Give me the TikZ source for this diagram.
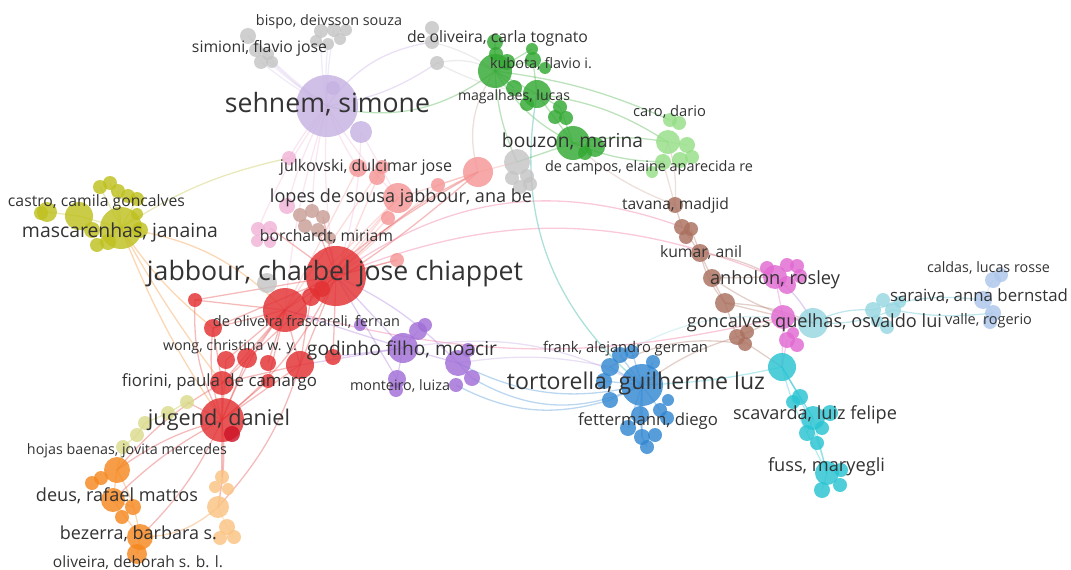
\documentclass[tikz,border=0pt]{standalone}
\usepackage{fontspec}
\setmainfont{Open Sans}
\usepackage{graphicx}
\pgfdeclarelayer{bg}
\pgfsetlayers{bg,main}
\definecolor{cred}{RGB}{226,48,50}
\definecolor{cdred}{RGB}{205,20,40}
\definecolor{cgreen}{RGB}{50,168,50}
\definecolor{cblue}{RGB}{50,135,210}
\definecolor{colive}{RGB}{190,192,30}
\definecolor{cpurple}{RGB}{160,110,215}
\definecolor{cbrown}{RGB}{170,112,95}
\definecolor{cpink}{RGB}{225,105,210}
\definecolor{cgray}{RGB}{196,196,196}
\definecolor{ccyan}{RGB}{40,195,210}
\definecolor{clav}{RGB}{198,178,226}
\definecolor{csalmon}{RGB}{245,150,150}
\definecolor{clpink}{RGB}{240,178,215}
\definecolor{clbrown}{RGB}{200,158,150}
\definecolor{clgreen}{RGB}{150,222,135}
\definecolor{clblue}{RGB}{172,198,235}
\definecolor{clcyan}{RGB}{150,215,225}
\definecolor{clyellow}{RGB}{218,218,140}
\definecolor{corange}{RGB}{245,135,30}
\definecolor{clorange}{RGB}{250,195,130}
\definecolor{elav}{RGB}{190,160,225}
\definecolor{eteal}{RGB}{90,195,180}
\definecolor{epink}{RGB}{240,90,140}
\tikzset{
  bub/.style={circle,inner sep=0pt,outer sep=0pt,minimum size=#1*2pt,draw=none,fill opacity=0.82},
  ed/.style={line width=1.3pt,draw opacity=0.33,draw=#1},
  lab/.style={inner sep=0pt,outer sep=0pt,text=black!80,anchor=center},
}
\newcommand\lbl[4]{\node[lab] (#1) at (#2) {\resizebox{#3pt}{!}{\vphantom{Ahg}#4}};}
\begin{document}
\begin{tikzpicture}[x=1pt,y=-1pt]
\useasboundingbox (0,0) rectangle (1071,570);
% lavender
\node[bub=31,fill=clav] (S1) at (327,106) {};
\node[bub=11,fill=clav] (S2) at (361,132) {};
\node[bub=7,fill=clav] (S3) at (333,88) {};
% gray top
\node[bub=8,fill=cgray] (G1) at (248,36) {};
\node[bub=7,fill=cgray] (G2) at (256,50) {};
\node[bub=7,fill=cgray] (G3) at (261,62) {};
\node[bub=6,fill=cgray] (G4) at (272,62) {};
\node[bub=6,fill=cgray] (G14) at (268,54) {};
\node[bub=7,fill=cgray] (G5) at (321,31) {};
\node[bub=7,fill=cgray] (G6) at (334,30) {};
\node[bub=6,fill=cgray] (G7) at (340,39) {};
\node[bub=6,fill=cgray] (G8) at (328,44) {};
\node[bub=6,fill=cgray] (G9) at (346,30) {};
\node[bub=6,fill=cgray] (G13) at (316,41) {};
\node[bub=7,fill=cgray] (G10) at (432,28) {};
\node[bub=7,fill=cgray] (G11) at (432,42) {};
\node[bub=7,fill=cgray] (G12) at (437,63) {};
% green
\node[bub=17,fill=cgreen] (E1) at (495,71) {};
\node[bub=8,fill=cgreen] (E2) at (495,42) {};
\node[bub=7,fill=cgreen] (E14) at (496,54) {};
\node[bub=8,fill=cgreen] (E15) at (507,62) {};
\node[bub=8,fill=cgreen] (E3) at (533,60) {};
\node[bub=6,fill=cgreen] (E4) at (532,49) {};
\node[bub=6,fill=cgreen] (E16) at (545,68) {};
\node[bub=14,fill=cgreen] (E5) at (537,94) {};
\node[bub=8,fill=cgreen] (E6) at (514,88) {};
\node[bub=7,fill=cgreen] (E17) at (527,104) {};
\node[bub=7,fill=cgreen] (E7) at (560,107) {};
\node[bub=7,fill=cgreen] (E8) at (555,117) {};
\node[bub=7,fill=cgreen] (E9) at (566,118) {};
\node[bub=17,fill=cgreen] (E11) at (573,143) {};
\node[bub=10,fill=cgreen] (E12) at (595,147) {};
\node[bub=7,fill=cgreen] (E13) at (585,153) {};
% gray near bouzon
\node[bub=13,fill=cgray] (H1) at (517,162) {};
\node[bub=7,fill=cgray] (H2) at (527,176) {};
\node[bub=7,fill=cgray] (H3) at (530,184) {};
\node[bub=7,fill=cgray] (H4) at (520,187) {};
\node[bub=7,fill=cgray] (H5) at (512,178) {};
% salmon
\node[bub=15,fill=csalmon] (L1) at (478,172) {};
\node[bub=15,fill=csalmon] (L2) at (398,198) {};
\node[bub=7,fill=csalmon] (L3) at (438,185) {};
\node[bub=7,fill=csalmon] (L4) at (388,218) {};
\node[bub=7,fill=csalmon] (L5) at (397,260) {};
\node[bub=7,fill=csalmon] (L6) at (382,167) {};
\node[bub=9,fill=csalmon] (L7) at (358,168) {};
\node[bub=8,fill=csalmon] (L8) at (377,177) {};
% light pink
\node[bub=8,fill=clpink] (P1) at (287,206) {};
\node[bub=7,fill=clpink] (P2) at (258,229) {};
\node[bub=7,fill=clpink] (P3) at (270,228) {};
\node[bub=6,fill=clpink] (P4) at (257,241) {};
\node[bub=6,fill=clpink] (P5) at (270,242) {};
\node[bub=7,fill=clpink] (P6) at (289,158) {};
% light brown
\node[bub=7,fill=clbrown] (B1) at (300,215) {};
\node[bub=7,fill=clbrown] (B2) at (312,211) {};
\node[bub=7,fill=clbrown] (B3) at (323,217) {};
\node[bub=7,fill=clbrown] (B4) at (305,226) {};
\node[bub=7,fill=clbrown] (B5) at (318,230) {};
\node[bub=6,fill=clbrown] (B6) at (330,238) {};
% gray near charbel
\node[bub=10,fill=cgray] (H6) at (267,283) {};
% red
\node[bub=30,fill=cred] (R1) at (336,276) {};
\node[bub=22,fill=cred] (R2) at (285,310) {};
\node[bub=9,fill=cred] (R3) at (311,297) {};
\node[bub=8,fill=cred] (R16) at (322,289) {};
\node[bub=7,fill=cred] (R4) at (195,300) {};
\node[bub=9,fill=cred] (R5) at (213,328) {};
\node[bub=9,fill=cred] (R6) at (226,360) {};
\node[bub=10,fill=cred] (R7) at (247,358) {};
\node[bub=8,fill=cred] (R8) at (268,363) {};
\node[bub=14,fill=cred] (R9) at (300,365) {};
\node[bub=8,fill=cred] (R10) at (333,357) {};
\node[bub=12,fill=cred] (R11) at (222,383) {};
\node[bub=7,fill=cred] (R12) at (268,381) {};
\node[bub=22,fill=cred] (R13) at (222,420) {};
\node[bub=8,fill=cdred] (R14) at (232,434) {};
% purple
\node[bub=15,fill=cpurple] (U1) at (403,348) {};
\node[bub=9,fill=cpurple] (U2) at (418,331) {};
\node[bub=7,fill=cpurple] (U3) at (425,325) {};
\node[bub=6,fill=cpurple] (U4) at (360,325) {};
\node[bub=13,fill=cpurple] (U5) at (458,363) {};
\node[bub=8,fill=cpurple] (U6) at (472,378) {};
\node[bub=7,fill=cpurple] (U7) at (456,385) {};
\node[bub=9,fill=cpurple] (U8) at (397,379) {};
\node[bub=7,fill=cpurple] (U9) at (396,390) {};
\node[bub=7,fill=cpurple] (U10) at (468,350) {};
% olive
\node[bub=21,fill=colive] (Y1) at (121,228) {};
\node[bub=14,fill=colive] (Y2) at (79,216) {};
\node[bub=10,fill=colive] (Y3) at (47,212) {};
\node[bub=7,fill=colive] (Y9) at (41,213) {};
\node[bub=7,fill=colive] (Y4) at (100,187) {};
\node[bub=7,fill=colive] (Y5) at (110,183) {};
\node[bub=7,fill=colive] (Y6) at (118,191) {};
\node[bub=7,fill=colive] (Y11) at (128,196) {};
\node[bub=6,fill=colive] (Y7) at (137,214) {};
\node[bub=7,fill=colive] (Y8) at (97,245) {};
\node[bub=8,fill=colive] (Y12) at (92,230) {};
\node[bub=8,fill=colive] (Y13) at (108,242) {};
\node[bub=8,fill=colive] (Y14) at (140,230) {};
\node[bub=7,fill=colive] (Y10) at (137,199) {};
% light yellow
\node[bub=7,fill=clyellow] (W1) at (187,402) {};
\node[bub=7,fill=clyellow] (W2) at (168,413) {};
\node[bub=7,fill=clyellow] (W3) at (145,423) {};
\node[bub=7,fill=clyellow] (W4) at (137,435) {};
\node[bub=7,fill=clyellow] (W5) at (123,447) {};
% orange
\node[bub=13,fill=corange] (O1) at (117,470) {};
\node[bub=7,fill=corange] (O2) at (92,483) {};
\node[bub=7,fill=corange] (O3) at (101,478) {};
\node[bub=12,fill=corange] (O4) at (113,500) {};
\node[bub=8,fill=corange] (O5) at (133,507) {};
\node[bub=7,fill=corange] (O6) at (122,517) {};
\node[bub=13,fill=corange] (O7) at (140,537) {};
\node[bub=10,fill=corange] (O8) at (137,554) {};
% light orange
\node[bub=7,fill=clorange] (Q1) at (222,477) {};
\node[bub=6,fill=clorange] (Q2) at (215,487) {};
\node[bub=6,fill=clorange] (Q3) at (228,489) {};
\node[bub=11,fill=clorange] (Q4) at (218,507) {};
\node[bub=8,fill=clorange] (Q5) at (227,527) {};
\node[bub=7,fill=clorange] (Q6) at (234,537) {};
\node[bub=7,fill=clorange] (Q7) at (220,538) {};
% light green
\node[bub=12,fill=clgreen] (F1) at (668,142) {};
\node[bub=7,fill=clgreen] (F2) at (670,120) {};
\node[bub=7,fill=clgreen] (F3) at (679,123) {};
\node[bub=8,fill=clgreen] (F4) at (687,145) {};
\node[bub=7,fill=clgreen] (F5) at (692,157) {};
\node[bub=8,fill=clgreen] (F6) at (663,162) {};
\node[bub=8,fill=clgreen] (F7) at (680,160) {};
\node[bub=6,fill=clgreen] (F8) at (652,172) {};
% brown
\node[bub=8,fill=cbrown] (K1) at (675,205) {};
\node[bub=8,fill=cbrown] (K2) at (682,227) {};
\node[bub=7,fill=cbrown] (K3) at (691,229) {};
\node[bub=7,fill=cbrown] (K4) at (686,237) {};
\node[bub=9,fill=cbrown] (K5) at (700,253) {};
\node[bub=9,fill=cbrown] (K6) at (712,278) {};
\node[bub=10,fill=cbrown] (K7) at (725,303) {};
\node[bub=8,fill=cbrown] (K8) at (737,337) {};
\node[bub=7,fill=cbrown] (K9) at (747,332) {};
\node[bub=7,fill=cbrown] (K10) at (745,344) {};
% pink
\node[bub=12,fill=cpink] (M1) at (775,277) {};
\node[bub=9,fill=cpink] (M2) at (787,285) {};
\node[bub=7,fill=cpink] (M3) at (797,266) {};
\node[bub=7,fill=cpink] (M4) at (787,265) {};
\node[bub=7,fill=cpink] (M5) at (767,268) {};
\node[bub=7,fill=cpink] (M10) at (800,276) {};
\node[bub=12,fill=cpink] (M6) at (783,317) {};
\node[bub=8,fill=cpink] (M7) at (787,340) {};
\node[bub=7,fill=cpink] (M8) at (797,345) {};
\node[bub=6,fill=cpink] (M9) at (793,333) {};
% light cyan
\node[bub=15,fill=clcyan] (C1) at (813,323) {};
\node[bub=8,fill=clcyan] (C2) at (873,310) {};
\node[bub=8,fill=clcyan] (C3) at (893,310) {};
\node[bub=7,fill=clcyan] (C4) at (887,327) {};
\node[bub=7,fill=clcyan] (C5) at (883,300) {};
\node[bub=6,fill=clcyan] (C6) at (900,302) {};
\node[bub=6,fill=clcyan] (C7) at (877,321) {};
% light blue
\node[bub=8,fill=clblue] (A1) at (993,280) {};
\node[bub=7,fill=clblue] (A2) at (1001,275) {};
\node[bub=9,fill=clblue] (A3) at (983,300) {};
\node[bub=8,fill=clblue] (A4) at (993,313) {};
\node[bub=7,fill=clblue] (A5) at (990,322) {};
% cyan
\node[bub=14,fill=ccyan] (D1) at (782,367) {};
\node[bub=8,fill=ccyan] (D2) at (800,397) {};
\node[bub=7,fill=ccyan] (D3) at (793,402) {};
\node[bub=12,fill=ccyan] (D4) at (813,418) {};
\node[bub=8,fill=ccyan] (D5) at (830,413) {};
\node[bub=8,fill=ccyan] (D6) at (807,433) {};
\node[bub=7,fill=ccyan] (D12) at (822,428) {};
\node[bub=7,fill=ccyan] (D7) at (817,443) {};
\node[bub=12,fill=ccyan] (D8) at (827,473) {};
\node[bub=7,fill=ccyan] (D9) at (840,485) {};
\node[bub=8,fill=ccyan] (D10) at (822,490) {};
\node[bub=7,fill=ccyan] (D11) at (841,470) {};
% blue
\node[bub=21,fill=cblue] (T1) at (642,385) {};
\node[bub=9,fill=cblue] (T2) at (610,367) {};
\node[bub=8,fill=cblue] (T3) at (620,355) {};
\node[bub=7,fill=cblue] (T4) at (632,352) {};
\node[bub=7,fill=cblue] (T5) at (653,362) {};
\node[bub=8,fill=cblue] (T13) at (604,381) {};
\node[bub=8,fill=cblue] (T6) at (610,400) {};
\node[bub=9,fill=cblue] (T7) at (640,415) {};
\node[bub=8,fill=cblue] (T14) at (628,428) {};
\node[bub=7,fill=cblue] (T8) at (660,410) {};
\node[bub=7,fill=cblue] (T9) at (667,418) {};
\node[bub=6,fill=cblue] (T15) at (668,400) {};
\node[bub=8,fill=cblue] (T10) at (642,437) {};
\node[bub=7,fill=cblue] (T11) at (655,435) {};
\node[bub=7,fill=cblue] (T12) at (647,447) {};

\begin{pgfonlayer}{bg}
% lavender
\foreach \t in {G1,G2,G3,G4,G5,G6,G8} \draw[ed=elav,draw opacity=0.22] (S1.center) to[bend left=5] (\t.center);
\draw[ed=elav] (S1.center) to[bend left=22] (G11.center);
\draw[ed=elav] (S1.center) to[bend right=12] (G12.center);
\foreach \t in {P1,P2,L2,R1,R2,B2,L7,P6} \draw[ed=clpink] (S1.center) to[bend right=6] (\t.center);
\draw[ed=clpink] (S2.center) to[bend left=8] (R1.center);
\draw[ed=clpink] (S2.center) to (L2.center);
\draw[ed=cgreen] (S1.center) to[bend right=25] (E1.center);
% gray - green
\draw[ed=cgray] (G12.center) to[bend left=20] (E1.center);
\draw[ed=cgray] (G11.center) to[bend left=10] (E1.center);
\draw[ed=cgray] (G12.center) to[bend right=10] (E5.center);
% green
\foreach \t in {E2,E14,E3,E4,E5,E6} \draw[ed=cgreen] (E1.center) -- (\t.center);
\draw[ed=cgreen] (E5.center) -- (E7.center);
\draw[ed=cgreen] (E5.center) -- (E11.center);
\draw[ed=cgreen] (E1.center) to[bend right=15] (E11.center);
\draw[ed=cgreen] (E3.center) -- (E5.center);
\draw[ed=cgreen] (E7.center) -- (E11.center);
\draw[ed=cgreen] (E11.center) -- (E12.center);
\draw[ed=cgreen] (E11.center) to[bend left=10] (F1.center);
\draw[ed=cgreen] (E11.center) to[bend right=10] (F6.center);
\draw[ed=cgreen] (E5.center) to[bend left=12] (F1.center);
\draw[ed=cgreen] (E1.center) to[bend right=10] (H1.center);
\draw[ed=cgreen] (E11.center) -- (H1.center);
\draw[ed=cgreen] (E1.center) to[bend left=8] (F2.center);
% light green -> brown
\draw[ed=clbrown] (F1.center) to[bend left=10] (K1.center);
\draw[ed=clbrown] (F6.center) -- (K1.center);
\draw[ed=clgreen] (F1.center) -- (F4.center);
\draw[ed=clgreen] (F1.center) -- (F6.center);
\draw[ed=clbrown] (E11.center) to[bend right=10] (K1.center);
% salmon
\draw[ed=clbrown] (L1.center) to[bend left=25] (E1.center);
\draw[ed=csalmon] (L1.center) -- (H1.center);
\draw[ed=csalmon] (L1.center) -- (L2.center);
\draw[ed=cred] (L1.center) to[bend right=10] (R1.center);
\draw[ed=cred] (L1.center) to[bend right=6] (R2.center);
\draw[ed=cred] (L1.center) to[bend left=4] (R3.center);
\foreach \t in {R1,R2,R3} \draw[ed=csalmon] (L2.center) -- (\t.center);
\foreach \t in {L3,L4,L5,L6} \draw[ed=csalmon] (\t.center) -- (R1.center);
\draw[ed=csalmon] (L6.center) -- (R2.center);
\draw[ed=csalmon] (L7.center) -- (R2.center);
\draw[ed=csalmon] (L1.center) -- (L3.center);
% long red/pink edges
\draw[ed=epink] (R1.center) to[bend left=28] (K2.center);
\draw[ed=epink] (R1.center) to[bend left=22] (M1.center);
\draw[ed=epink] (R2.center) to[bend right=14] (M6.center);
% teal long
\draw[ed=eteal,draw opacity=0.5] (E5.center) to[bend right=30] (T1.center);
% red internal
\foreach \t in {R2,R3,R4,R5,R9,R10,R11,L5,B5,B3,P3} \draw[ed=cred] (R1.center) -- (\t.center);
\draw[ed=cred] (R1.center) to[bend left=12] (R13.center);
\foreach \t in {R4,R5,R6,R7,R8,R9,R11,R12} \draw[ed=cred] (R2.center) -- (\t.center);
\draw[ed=cred] (R2.center) to[bend right=8] (R13.center);
\foreach \t in {R9,R7,R6,R11,R12} \draw[ed=cred] (R13.center) -- (\t.center);
\draw[ed=cred] (R9.center) -- (R11.center);
\draw[ed=cred] (R5.center) -- (R11.center);
\draw[ed=cred] (R5.center) to[bend right=12] (R13.center);
\draw[ed=cred] (R4.center) to[bend right=15] (R13.center);
\draw[ed=cred] (R3.center) -- (R9.center);
\draw[ed=cpurple] (R1.center) -- (U1.center);
\draw[ed=cpurple] (R1.center) to[bend left=10] (U5.center);
\draw[ed=cpurple] (R2.center) -- (U1.center);
\draw[ed=cpurple] (R9.center) -- (U1.center);
\draw[ed=cpurple] (R10.center) -- (U1.center);
\draw[ed=cpurple] (R1.center) -- (U8.center);
% red to south
\draw[ed=cred] (R13.center) to[bend right=10] (O1.center);
\draw[ed=cred] (R13.center) to[bend right=8] (O4.center);
\draw[ed=cred] (R13.center) to[bend left=8] (Q4.center);
\draw[ed=cred] (R13.center) -- (Q1.center);
\draw[ed=cred] (R13.center) -- (W1.center);
\draw[ed=cred] (R13.center) to[bend left=10] (O7.center);
\draw[ed=cred] (R11.center) to[bend right=10] (O1.center);
\draw[ed=cred] (R9.center) to[bend left=12] (Q4.center);
% olive
\draw[ed=clyellow,draw opacity=0.6] (Y1.center) to[bend left=10] (P6.center);
\draw[ed=corange] (Y1.center) to[bend left=18] (R2.center);
\draw[ed=corange] (Y1.center) to[bend right=8] (R5.center);
\draw[ed=corange] (Y1.center) to[bend right=6] (R13.center);
\draw[ed=corange] (Y1.center) to[bend right=4] (R11.center);
\foreach \t in {Y2,Y4,Y5,Y6,Y7,Y8,Y10} \draw[ed=colive] (Y1.center) -- (\t.center);
\draw[ed=colive] (Y2.center) -- (Y3.center);
% light yellow chain
\draw[ed=clyellow,draw opacity=0.6] (W1.center) -- (W2.center) -- (W3.center) -- (W4.center) -- (W5.center) -- (O1.center);
% orange
\draw[ed=corange] (O1.center) -- (O4.center) -- (O7.center) -- (O8.center);
\draw[ed=corange] (O1.center) to[bend left=10] (O7.center);
\draw[ed=corange] (O4.center) -- (O5.center);
\draw[ed=corange] (O7.center) to[bend right=20] (Q4.center);
\draw[ed=clorange] (Q1.center) -- (Q4.center) -- (Q5.center) -- (Q6.center);
% purple/blue
\draw[ed=cpurple] (U1.center) -- (U5.center);
\draw[ed=cpurple] (U1.center) -- (U8.center);
\draw[ed=cpurple] (U1.center) -- (U2.center);
\draw[ed=cpurple] (U5.center) -- (U6.center);
\draw[ed=elav] (U1.center) to[bend left=18] (T1.center);
\draw[ed=cblue] (U5.center) to[bend right=20] (T1.center);
\draw[ed=cblue] (U6.center) to[bend right=28] (T1.center);
\draw[ed=cblue] (U7.center) to[bend right=22] (T6.center);
\draw[ed=elav] (U5.center) to[bend left=10] (T2.center);
% blue
\draw[ed=ccyan] (T1.center) to[bend right=5] (D1.center);
\draw[ed=clcyan] (T3.center) to[bend left=20] (C1.center);
\draw[ed=cbrown] (T1.center) to[bend left=10] (K8.center);
\draw[ed=cbrown] (T2.center) to[bend left=18] (K10.center);
\foreach \t in {T2,T3,T4,T5,T6,T7,T8,T10,T13,T14} \draw[ed=cblue] (T1.center) -- (\t.center);
\draw[ed=cblue] (T7.center) -- (T10.center) -- (T12.center);
% brown
\draw[ed=cbrown] (K1.center) -- (K2.center) -- (K5.center) -- (K6.center) -- (K7.center) -- (K8.center);
\draw[ed=cbrown] (K3.center) -- (K5.center);
\draw[ed=cbrown] (K6.center) -- (M1.center);
\draw[ed=cbrown] (K7.center) -- (M6.center);
\draw[ed=cbrown] (K7.center) to[bend left=10] (C1.center);
\draw[ed=cbrown] (K8.center) -- (D1.center);
\draw[ed=cbrown] (K8.center) -- (M6.center);
\draw[ed=cbrown] (K5.center) to[bend left=10] (M1.center);
\draw[ed=cbrown] (K6.center) to[bend right=10] (C1.center);
\draw[ed=cbrown] (K5.center) to[bend right=12] (K7.center);
% pink
\draw[ed=cpink] (M1.center) -- (M6.center);
\draw[ed=cpurple] (M1.center) to[bend left=12] (C1.center);
\draw[ed=cpink] (M6.center) -- (C1.center);
\draw[ed=cpink] (M6.center) -- (D1.center);
\draw[ed=cpink] (M7.center) -- (D1.center);
% light cyan
\draw[ed=clcyan,draw opacity=0.6] (C1.center) to[bend left=15] (C2.center);
\draw[ed=clcyan,draw opacity=0.6] (C1.center) to[bend right=12] (C3.center);
\draw[ed=clcyan,draw opacity=0.6] (C2.center) to[bend left=12] (A3.center);
\draw[ed=clcyan,draw opacity=0.6] (C3.center) to[bend right=8] (A4.center);
\draw[ed=clblue] (A1.center) -- (A3.center) -- (A4.center);
% cyan
\draw[ed=ccyan] (D1.center) -- (D2.center) -- (D4.center) -- (D6.center) -- (D8.center);
\draw[ed=ccyan] (D1.center) -- (D4.center) -- (D8.center);
\draw[ed=ccyan] (D1.center) to[bend left=8] (D8.center);
\draw[ed=ccyan] (D1.center) to[bend right=6] (D6.center);
\draw[ed=ccyan] (D8.center) -- (D10.center);
\end{pgfonlayer}

% labels
\lbl{l1}{329,22}{146}{bispo, deivsson souza}
\lbl{l2}{259.5,48}{135}{simioni, flavio jose}
\lbl{l3}{497.5,38}{181}{de oliveira, carla tognato}
\lbl{l4}{541,65}{102}{kubota, flavio i.}
\lbl{l5}{514,97}{112}{magalhaes, lucas}
\lbl{l6}{327.5,106}{205}{sehnem, simone}
\lbl{l7}{669.5,113}{73}{caro, dario}
\lbl{l8}{572.5,143}{141}{bouzon, marina}
\lbl{l9}{366,167}{172}{julkovski, dulcimar jose}
\lbl{l10}{649,168}{208}{de campos, elaine aparecida re}
\lbl{l11}{96.5,202}{177}{castro, camila goncalves}
\lbl{l12}{401,198}{262}{lopes de sousa jabbour, ana be}
\lbl{l13}{675.5,205}{107}{tavana, madjid}
\lbl{l14}{120,232}{196}{mascarenhas, janaina}
\lbl{l15}{326.5,237}{133}{borchardt, miriam}
\lbl{l16}{701,253}{82}{kumar, anil}
\lbl{l17}{335,274}{376}{jabbour, charbel jose chiappet}
\lbl{l18}{775,280}{130}{anholon, rosley}
\lbl{l19}{988.5,269}{123}{caldas, lucas rosse}
\lbl{l20}{979,297}{178}{saraiva, anna bernstad}
\lbl{l21}{814.5,323}{255}{goncalves quelhas, osvaldo lui}
\lbl{l22}{988.5,321}{87}{valle, rogerio}
\lbl{l23}{306.5,323}{187}{de oliveira frascareli, fernan}
\lbl{l24}{230,347}{134}{wong, christina w. y.}
\lbl{l25}{402,350}{190}{godinho filho, moacir}
\lbl{l26}{625.5,349}{165}{frank, alejandro german}
\lbl{l27}{400,387}{100}{monteiro, luiza}
\lbl{l28}{219.5,382}{195}{fiorini, paula de camargo}
\lbl{l29}{636,383}{258}{tortorella, guilherme luz}
\lbl{l30}{219,420}{142}{jugend, daniel}
\lbl{l31}{648,421}{140}{fettermann, diego}
\lbl{l32}{815,415}{164}{scavarda, luiz felipe}
\lbl{l33}{826.5,467}{117}{fuss, maryegli}
\lbl{l34}{127,451}{200}{hojas baenas, jovita mercedes}
\lbl{l35}{117,497}{162}{deus, rafael mattos}
\lbl{l36}{138.5,535}{157}{bezerra, barbara s.}
\lbl{l37}{138,563}{170}{oliveira, deborah s. b. l.}
\end{tikzpicture}
\end{document}
